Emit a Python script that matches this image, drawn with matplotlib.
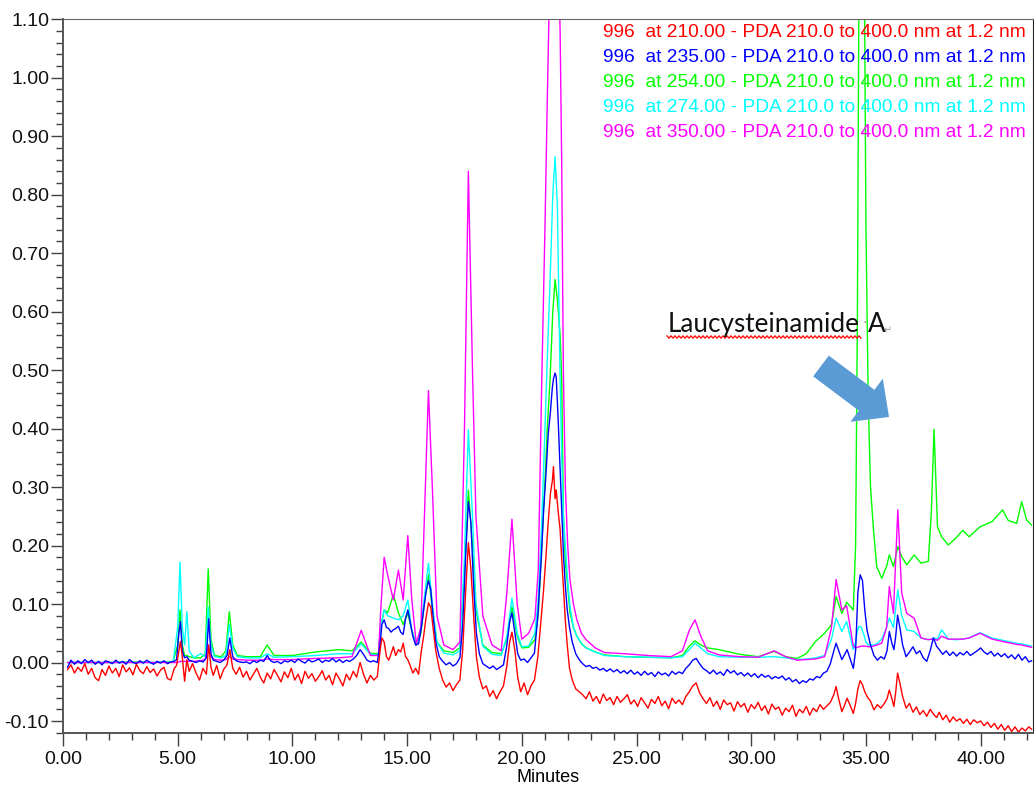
import numpy as np
import matplotlib.pyplot as plt
from matplotlib.patches import FancyArrow
from matplotlib.ticker import MultipleLocator, FormatStrFormatter

plt.rcParams['font.family'] = ['Liberation Sans', 'DejaVu Sans']
plt.rcParams['axes.unicode_minus'] = False

# ---- noisy channels (210 nm / 235 nm), shared retention times ----
minutes_a = [0.2, 0.35, 0.5, 0.65, 0.8, 0.95, 1.1, 1.25, 1.4, 1.55,
             1.7, 1.85, 2.0, 2.15, 2.3, 2.45, 2.6, 2.75, 2.9, 3.05,
             3.2, 3.35, 3.5, 3.65, 3.8, 3.95, 4.1, 4.25, 4.4, 4.55,
             4.7, 4.85]
red_a = [-0.012, -0.004, -0.018, -0.008, -0.015, -0.002, -0.020, -0.010, -0.026, -0.031,
         -0.012, -0.022, -0.006, -0.018, -0.010, -0.024, -0.004, -0.016, -0.009, -0.021,
         -0.003, -0.014, -0.019, -0.007, -0.017, -0.011, -0.023, -0.013, -0.008, -0.027,
         -0.030, -0.010]
blue_a = [-0.008, 0.004, -0.003, 0.003, -0.002, 0.005, 0.000, 0.004, -0.003, 0.002,
          -0.004, 0.003, 0.001, -0.002, 0.004, -0.001, 0.002, -0.003, 0.005, 0.000,
          -0.002, 0.003, -0.001, 0.004, 0.000, -0.003, 0.002, -0.001, 0.003, -0.002,
          0.001, 0.002]

minutes_b = [4.95, 5.05, 5.12, 5.2, 5.3, 5.4, 5.5, 5.65, 5.8, 5.95,
             6.1, 6.25, 6.35, 6.45, 6.55, 6.7, 6.85, 7.0, 7.15, 7.27,
             7.4, 7.55, 7.7, 7.85]
red_b = [-0.005, 0.020, 0.036, 0.010, -0.032, 0.005, -0.015, -0.002, -0.018, -0.030,
         -0.010, -0.020, 0.030, -0.008, -0.022, -0.005, -0.028, -0.012, -0.004, 0.022,
         -0.010, -0.020, -0.008, -0.025]
blue_b = [0.005, 0.050, 0.070, 0.020, 0.008, 0.010, 0.004, 0.002, 0.000, 0.003,
          0.001, 0.008, 0.075, 0.015, 0.004, 0.002, 0.000, 0.004, 0.012, 0.042,
          0.010, 0.003, 0.001, 0.000]

minutes_c = [8.0, 8.15, 8.3, 8.45, 8.6, 8.75, 8.9, 9.05, 9.2, 9.35,
             9.5, 9.65, 9.8, 9.95, 10.1, 10.25, 10.4, 10.55, 10.7, 10.85,
             11.0, 11.15, 11.3, 11.45, 11.6, 11.75, 11.9, 12.05, 12.2, 12.35,
             12.5, 12.65, 12.8, 12.95, 13.1, 13.25, 13.4, 13.55, 13.7]
red_c = [-0.015, -0.030, -0.020, -0.010, -0.025, -0.035, -0.018, -0.028, -0.012, -0.022,
         -0.033, -0.016, -0.026, -0.010, -0.030, -0.020, -0.036, -0.015, -0.027, -0.019,
         -0.032, -0.024, -0.014, -0.030, -0.022, -0.038, -0.018, -0.028, -0.040, -0.020,
         -0.030, -0.015, -0.025, 0.000, -0.020, -0.035, -0.022, -0.030, -0.024]
blue_c = [0.001, -0.002, 0.003, 0.000, 0.004, 0.002, 0.012, 0.003, 0.000, 0.002,
          -0.002, 0.003, 0.001, 0.004, 0.000, 0.006, 0.002, -0.001, 0.005, 0.001,
          0.003, 0.006, 0.000, 0.004, 0.002, 0.007, 0.001, 0.005, 0.000, 0.004,
          0.002, 0.006, 0.012, 0.022, 0.014, 0.004, 0.001, 0.003, 0.000]

minutes_d = [13.82, 13.9, 14.0, 14.1, 14.2, 14.3, 14.4, 14.5, 14.62, 14.72,
             14.83, 14.93, 15.03, 15.13, 15.25, 15.37, 15.5, 15.62, 15.72, 15.82,
             15.93, 16.03, 16.13, 16.25, 16.4, 16.55, 16.7, 16.85, 17.0, 17.15,
             17.3, 17.42, 17.55, 17.67, 17.78, 17.9, 18.02, 18.15, 18.3, 18.45,
             18.6, 18.75, 18.9, 19.05, 19.2, 19.35, 19.47, 19.57, 19.7, 19.82,
             19.95, 20.1, 20.25, 20.4, 20.55, 20.7, 20.85, 20.95, 21.05, 21.15,
             21.25, 21.33, 21.38, 21.45, 21.5, 21.58, 21.67, 21.75, 21.82, 21.9,
             21.98, 22.08, 22.2, 22.35, 22.5]
red_d = [0.020, 0.042, 0.035, 0.010, 0.004, 0.015, 0.027, 0.012, 0.022, 0.018,
         0.033, 0.010, 0.005, -0.005, -0.018, -0.010, -0.020, 0.020, 0.045, 0.075,
         0.102, 0.095, 0.060, 0.020, -0.010, -0.030, -0.042, -0.035, -0.048, -0.038,
         -0.030, 0.020, 0.120, 0.205, 0.160, 0.080, 0.010, -0.025, -0.045, -0.040,
         -0.058, -0.048, -0.062, -0.050, -0.040, -0.005, 0.035, 0.052, 0.020, -0.025,
         -0.050, -0.035, -0.055, -0.040, -0.030, 0.010, 0.080, 0.125, 0.180, 0.240,
         0.290, 0.310, 0.335, 0.280, 0.295, 0.260, 0.227, 0.170, 0.125, 0.070,
         0.030, -0.010, -0.030, -0.045, -0.050]
blue_d = [0.030, 0.065, 0.073, 0.060, 0.058, 0.052, 0.056, 0.058, 0.062, 0.052,
          0.048, 0.075, 0.090, 0.070, 0.045, 0.030, 0.032, 0.060, 0.090, 0.120,
          0.140, 0.125, 0.080, 0.035, 0.010, 0.002, -0.004, 0.000, -0.006, -0.002,
          0.008, 0.060, 0.180, 0.275, 0.240, 0.130, 0.050, 0.015, -0.002, -0.006,
          -0.010, -0.006, -0.012, -0.008, -0.004, 0.030, 0.070, 0.085, 0.050, 0.015,
          0.004, 0.006, 0.000, 0.008, 0.016, 0.080, 0.180, 0.260, 0.320, 0.390,
          0.430, 0.470, 0.485, 0.495, 0.488, 0.420, 0.330, 0.250, 0.180, 0.130,
          0.090, 0.060, 0.035, 0.015, 0.005]

minutes_e = [22.65, 22.8, 22.95, 23.1, 23.25, 23.4, 23.55, 23.7, 23.85, 24.0,
             24.15, 24.3, 24.45, 24.6, 24.75, 24.9, 25.05, 25.2, 25.35, 25.5,
             25.65, 25.8, 25.95, 26.1, 26.25, 26.4, 26.55, 26.7, 26.85, 27.0,
             27.15, 27.3, 27.45, 27.6, 27.75, 27.9, 28.05, 28.2, 28.35, 28.5,
             28.65, 28.8, 28.95, 29.1, 29.25, 29.4, 29.55, 29.7, 29.85, 30.0,
             30.15, 30.3, 30.45, 30.6, 30.75, 30.9, 31.05, 31.2, 31.35, 31.5,
             31.65, 31.8, 31.95, 32.1, 32.25, 32.4, 32.55, 32.7, 32.85, 33.0,
             33.15, 33.3, 33.45, 33.6, 33.7, 33.8, 33.95, 34.05, 34.18, 34.3,
             34.45, 34.55, 34.65, 34.75, 34.85, 34.95, 35.05, 35.2, 35.35, 35.5,
             35.65, 35.8, 35.92, 36.02, 36.12, 36.22, 36.3, 36.38, 36.48, 36.6,
             36.75, 36.9, 37.05, 37.2, 37.35, 37.5, 37.65, 37.8, 37.94, 38.08,
             38.2, 38.35, 38.5, 38.65, 38.8, 38.95, 39.1, 39.25, 39.4, 39.55,
             39.7, 39.85, 40.0, 40.15, 40.3, 40.45, 40.6, 40.75, 40.9, 41.05,
             41.2, 41.35, 41.5, 41.65, 41.8, 41.95, 42.1, 42.22]
red_e = [-0.055, -0.062, -0.050, -0.066, -0.058, -0.070, -0.054, -0.065, -0.060, -0.072,
         -0.058, -0.068, -0.062, -0.055, -0.071, -0.064, -0.075, -0.060, -0.069, -0.078,
         -0.063, -0.070, -0.058, -0.074, -0.066, -0.079, -0.061, -0.070, -0.064, -0.072,
         -0.058, -0.050, -0.040, -0.035, -0.052, -0.062, -0.070, -0.060, -0.075, -0.066,
         -0.080, -0.064, -0.072, -0.069, -0.083, -0.067, -0.076, -0.070, -0.085, -0.072,
         -0.079, -0.068, -0.082, -0.074, -0.088, -0.071, -0.080, -0.076, -0.090, -0.078,
         -0.084, -0.073, -0.092, -0.080, -0.086, -0.075, -0.090, -0.078, -0.084, -0.072,
         -0.080, -0.074, -0.068, -0.055, -0.041, -0.060, -0.084, -0.075, -0.061, -0.072,
         -0.087, -0.070, -0.045, -0.031, -0.038, -0.050, -0.058, -0.066, -0.081, -0.072,
         -0.078, -0.070, -0.062, -0.047, -0.060, -0.075, -0.050, -0.018, -0.035, -0.058,
         -0.078, -0.070, -0.085, -0.076, -0.089, -0.082, -0.092, -0.080, -0.088, -0.094,
         -0.085, -0.098, -0.090, -0.102, -0.093, -0.100, -0.096, -0.104, -0.097, -0.106,
         -0.098, -0.103, -0.100, -0.108, -0.102, -0.111, -0.104, -0.114, -0.106, -0.116,
         -0.108, -0.118, -0.110, -0.119, -0.112, -0.117, -0.110, -0.114]
blue_e = [-0.002, -0.007, -0.005, -0.010, -0.008, -0.013, -0.010, -0.015, -0.011, -0.016,
          -0.012, -0.018, -0.014, -0.019, -0.013, -0.020, -0.016, -0.022, -0.015, -0.021,
          -0.017, -0.024, -0.016, -0.021, -0.018, -0.023, -0.015, -0.020, -0.016, -0.019,
          -0.010, -0.004, 0.004, 0.007, -0.002, -0.010, -0.014, -0.019, -0.013, -0.020,
          -0.016, -0.022, -0.012, -0.018, -0.014, -0.021, -0.017, -0.023, -0.018, -0.024,
          -0.019, -0.026, -0.020, -0.025, -0.022, -0.028, -0.024, -0.027, -0.023, -0.030,
          -0.026, -0.033, -0.029, -0.036, -0.031, -0.034, -0.028, -0.030, -0.024, -0.026,
          -0.018, -0.015, -0.002, 0.020, 0.033, 0.022, 0.005, 0.012, 0.022, 0.008,
          -0.010, 0.020, 0.120, 0.150, 0.140, 0.090, 0.055, 0.030, 0.012, 0.004,
          0.010, 0.006, 0.020, 0.053, 0.035, 0.022, 0.045, 0.081, 0.060, 0.030,
          0.010, 0.018, 0.027, 0.015, 0.020, 0.008, 0.002, 0.020, 0.042, 0.028,
          0.022, 0.014, 0.020, 0.012, 0.018, 0.011, 0.017, 0.013, 0.019, 0.012,
          0.016, 0.020, 0.025, 0.018, 0.014, 0.019, 0.011, 0.016, 0.010, 0.015,
          0.008, 0.013, 0.006, 0.014, 0.004, 0.010, 0.001, 0.003]

# ---- smoother channels (254 / 274 / 350 nm), shared retention times ----
minutes_s = [0.2, 1.0, 2.0, 3.0, 4.0, 4.8, 5.0, 5.1, 5.2, 5.3,
             5.4, 5.5, 5.7, 6.0, 6.2, 6.33, 6.45, 6.6, 6.9, 7.1,
             7.25, 7.4, 7.6, 8.0, 8.6, 8.9, 9.2, 10.0, 11.0, 12.0,
             12.6, 13.0, 13.4, 13.75, 13.85, 14.0, 14.15, 14.4, 14.62, 14.83,
             15.03, 15.2, 15.4, 15.6, 15.78, 15.93, 16.1, 16.3, 16.6, 17.0,
             17.3, 17.5, 17.67, 17.85, 18.0, 18.3, 18.7, 19.1, 19.35, 19.57,
             19.8, 20.0, 20.3, 20.57, 20.72, 20.87, 21.01, 21.11, 21.23, 21.35,
             21.45, 21.55, 21.67, 21.74, 21.81, 21.9, 22.0, 22.1, 22.25, 22.4,
             22.6, 22.8, 23.2, 23.6, 24.5, 25.5, 26.5, 27.0, 27.3, 27.55,
             27.8, 28.1, 28.6, 29.5, 30.3, 31.0, 31.5, 32.0, 32.4, 32.8,
             33.2, 33.5, 33.7, 33.95, 34.16, 34.45, 34.55, 34.63, 34.7, 34.8,
             34.93, 35.0, 35.1, 35.2, 35.33, 35.47, 35.69, 35.9, 36.02, 36.2,
             36.39, 36.56, 36.78, 37.1, 37.4, 37.72, 37.85, 37.97, 38.12, 38.3,
             38.59, 38.9, 39.22, 39.5, 39.97, 40.5, 40.96, 41.2, 41.57, 41.79,
             42.0, 42.22]
green = [0.000, 0.000, 0.000, 0.001, 0.000, 0.002, 0.030, 0.090, 0.030, 0.012,
         0.012, 0.010, 0.008, 0.008, 0.015, 0.160, 0.040, 0.012, 0.010, 0.020,
         0.087, 0.030, 0.012, 0.010, 0.010, 0.030, 0.012, 0.012, 0.018, 0.022,
         0.020, 0.035, 0.016, 0.015, 0.060, 0.090, 0.085, 0.116, 0.085, 0.065,
         0.084, 0.056, 0.030, 0.050, 0.110, 0.150, 0.090, 0.035, 0.020, 0.017,
         0.025, 0.150, 0.295, 0.200, 0.090, 0.030, 0.017, 0.015, 0.040, 0.095,
         0.045, 0.025, 0.026, 0.039, 0.084, 0.198, 0.312, 0.400, 0.483, 0.600,
         0.655, 0.620, 0.560, 0.483, 0.256, 0.170, 0.130, 0.085, 0.060, 0.045,
         0.032, 0.025, 0.018, 0.013, 0.010, 0.009, 0.008, 0.012, 0.028, 0.037,
         0.030, 0.025, 0.022, 0.014, 0.010, 0.019, 0.010, 0.007, 0.015, 0.036,
         0.050, 0.065, 0.113, 0.084, 0.103, 0.090, 0.200, 0.600, 1.200, 1.500,
         1.200, 0.750, 0.450, 0.300, 0.227, 0.164, 0.144, 0.164, 0.184, 0.164,
         0.198, 0.181, 0.167, 0.184, 0.170, 0.173, 0.255, 0.399, 0.232, 0.215,
         0.201, 0.212, 0.226, 0.215, 0.232, 0.241, 0.261, 0.243, 0.238, 0.275,
         0.244, 0.235]
cyan = [0.000, 0.000, 0.000, 0.000, 0.000, 0.001, 0.060, 0.172, 0.060, 0.030,
        0.087, 0.020, 0.008, 0.015, 0.010, 0.095, 0.030, 0.010, 0.008, 0.012,
        0.065, 0.025, 0.010, 0.008, 0.008, 0.015, 0.009, 0.010, 0.012, 0.015,
        0.015, 0.032, 0.014, 0.013, 0.060, 0.090, 0.080, 0.076, 0.073, 0.080,
        0.107, 0.055, 0.030, 0.060, 0.120, 0.170, 0.100, 0.035, 0.016, 0.013,
        0.020, 0.180, 0.398, 0.250, 0.100, 0.028, 0.014, 0.012, 0.045, 0.110,
        0.050, 0.027, 0.028, 0.050, 0.110, 0.240, 0.400, 0.520, 0.650, 0.800,
        0.865, 0.780, 0.483, 0.350, 0.250, 0.198, 0.140, 0.096, 0.060, 0.045,
        0.033, 0.025, 0.018, 0.012, 0.010, 0.009, 0.008, 0.010, 0.022, 0.033,
        0.025, 0.015, 0.010, 0.009, 0.009, 0.010, 0.008, 0.005, 0.006, 0.008,
        0.012, 0.040, 0.076, 0.053, 0.070, 0.022, 0.035, 0.055, 0.062, 0.060,
        0.045, 0.035, 0.030, 0.030, 0.030, 0.032, 0.040, 0.060, 0.076, 0.060,
        0.124, 0.080, 0.056, 0.053, 0.042, 0.039, 0.040, 0.042, 0.040, 0.056,
        0.040, 0.039, 0.040, 0.042, 0.051, 0.042, 0.038, 0.036, 0.033, 0.032,
        0.030, 0.028]
magenta = [0.000, 0.000, 0.000, 0.000, 0.000, 0.000, 0.000, 0.002, 0.002, 0.002,
           0.002, 0.002, 0.002, 0.003, 0.005, 0.030, 0.010, 0.005, 0.004, 0.005,
           0.010, 0.006, 0.005, 0.004, 0.004, 0.006, 0.005, 0.005, 0.007, 0.008,
           0.010, 0.055, 0.012, 0.012, 0.090, 0.180, 0.150, 0.107, 0.158, 0.107,
           0.217, 0.110, 0.032, 0.060, 0.278, 0.465, 0.300, 0.080, 0.030, 0.022,
           0.035, 0.400, 0.840, 0.500, 0.250, 0.080, 0.030, 0.020, 0.120, 0.245,
           0.100, 0.040, 0.050, 0.075, 0.160, 0.483, 0.745, 0.960, 1.200, 1.300,
           1.320, 1.250, 1.080, 0.850, 0.500, 0.300, 0.200, 0.141, 0.100, 0.073,
           0.050, 0.039, 0.025, 0.017, 0.015, 0.012, 0.010, 0.020, 0.055, 0.073,
           0.045, 0.020, 0.013, 0.010, 0.009, 0.020, 0.010, 0.004, 0.005, 0.006,
           0.010, 0.060, 0.142, 0.090, 0.097, 0.028, 0.025, 0.026, 0.027, 0.028,
           0.028, 0.028, 0.027, 0.027, 0.028, 0.030, 0.033, 0.060, 0.130, 0.084,
           0.261, 0.119, 0.084, 0.076, 0.042, 0.039, 0.040, 0.040, 0.038, 0.045,
           0.040, 0.040, 0.040, 0.042, 0.050, 0.040, 0.036, 0.034, 0.031, 0.030,
           0.028, 0.026]

legend_labels = ['996  at 210.00 - PDA 210.0 to 400.0 nm at 1.2 nm',
                 '996  at 235.00 - PDA 210.0 to 400.0 nm at 1.2 nm',
                 '996  at 254.00 - PDA 210.0 to 400.0 nm at 1.2 nm',
                 '996  at 274.00 - PDA 210.0 to 400.0 nm at 1.2 nm',
                 '996  at 350.00 - PDA 210.0 to 400.0 nm at 1.2 nm']
legend_colors = ['#ff0000', '#0000ff', '#00ff00', '#00ffff', '#ff00ff']

minutes_n = minutes_a + minutes_b + minutes_c + minutes_d + minutes_e
red = red_a + red_b + red_c + red_d + red_e
blue = blue_a + blue_b + blue_c + blue_d + blue_e
assert len(minutes_n) == len(red) == len(blue)
assert len(minutes_s) == len(green) == len(cyan) == len(magenta)

W, H = 1034, 792
fig = plt.figure(figsize=(W / 100, H / 100), dpi=100)
ax = fig.add_axes([63 / W, 59.3 / H, 969.7 / W, 713.5 / H])

lw = 1.0
ax.plot(minutes_s, green, color='#00ff00', lw=lw)
ax.plot(minutes_s, cyan, color='#00ffff', lw=lw)
ax.plot(minutes_s, magenta, color='#ff00ff', lw=lw)
ax.plot(minutes_n, blue, color='#0000ff', lw=lw)
ax.plot(minutes_n, red, color='#ff0000', lw=lw)

ax.set_xlim(0, 42.27)
ax.set_ylim(-0.12, 1.10)
ax.xaxis.set_major_locator(MultipleLocator(5))
ax.xaxis.set_minor_locator(MultipleLocator(1))
ax.yaxis.set_major_locator(MultipleLocator(0.1))
ax.yaxis.set_minor_locator(MultipleLocator(0.02))
ax.xaxis.set_major_formatter(FormatStrFormatter('%.2f'))
ax.yaxis.set_major_formatter(FormatStrFormatter('%.2f'))
ax.tick_params(which='major', direction='out', length=9, width=1.0,
               color='#404040', labelsize=14, labelcolor='#111111')
ax.tick_params(axis='y', which='major', pad=1)
ax.tick_params(axis='x', which='major', pad=4)
ax.tick_params(which='minor', direction='out', length=5, width=1.0, color='#404040')
for side in ['left', 'bottom']:
    ax.spines[side].set_color('#555555')
    ax.spines[side].set_linewidth(1.4)
ax.spines['top'].set_color('#666666')
ax.spines['right'].set_color('#222222')
ax.set_xlabel('Minutes', fontsize=13, labelpad=1)

# channel labels, stacked in the upper right corner
for i, (label, c) in enumerate(zip(legend_labels, legend_colors)):
    ax.text(0.9928, 0.9807 - i * 0.0347, label, color=c, fontsize=13.8,
            ha='right', va='center', transform=ax.transAxes)

# compound callout (positions in pixels from the top-left corner)
pix = fig.dpi_scale_trans


def to_in(x, y):
    return x / 100, (H - y) / 100


callout_font = ['Lato', 'DejaVu Sans']
fig.text(*to_in(668, 332), 'Laucysteinamide', fontsize=18.8, family=callout_font,
         color='#111111', va='baseline', transform=pix)
fig.text(*to_in(862, 326), '\u00b7', fontsize=10, color='#888888', va='baseline', transform=pix)
fig.text(*to_in(868, 332), 'A', fontsize=18.8, family=callout_font,
         color='#111111', va='baseline', transform=pix)
fig.text(*to_in(884, 333), '\u21b5', fontsize=7, color='#999999', va='baseline',
         family='DejaVu Sans', transform=pix)

# wavy spell-check underline
wx = np.arange(667, 863, 2.0)
wy = 337 + np.where(np.arange(len(wx)) % 2 == 0, -1.2, 1.2)
fig.add_artist(plt.Line2D(wx / 100, (H - wy) / 100, color='#ff0000', lw=0.9, transform=pix))

# block arrow pointing at the compound peak
x0, y0 = to_in(821, 366)
x1, y1 = to_in(889, 417)
fig.add_artist(FancyArrow(x0, y0, x1 - x0, y1 - y0, width=0.26, head_width=0.54,
                          head_length=0.28, length_includes_head=True,
                          color='#5b9bd5', lw=0, transform=pix))

fig.savefig('out.png', dpi=100)
